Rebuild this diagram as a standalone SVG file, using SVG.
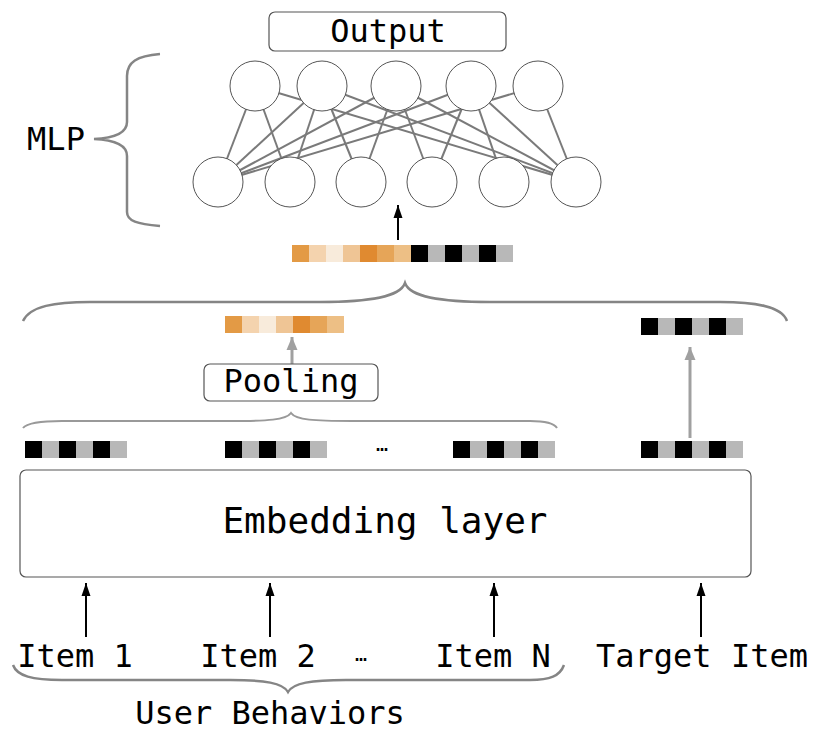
<svg xmlns="http://www.w3.org/2000/svg" width="816" height="742" viewBox="0 0 816 742">
<style>
text{font-family:"DejaVu Sans Mono","Liberation Mono",monospace;fill:#000}
.lbl{font-size:32px}
.box{fill:#fff;stroke:#555;stroke-width:1.2}
.nd{fill:#fff;stroke:#555;stroke-width:1}
.ln{stroke:#7a7a7a;stroke-width:2;fill:none}
.br{fill:none;stroke:#858585;stroke-width:2.5}
.ak{stroke:#000;stroke-width:2}
.ag{stroke:#a0a0a0;stroke-width:3}
.k{fill:#000}.g{fill:#b8b8b8}
.o1{fill:#e39a45}.o2{fill:#f4d3ae}.o3{fill:#f8ebdb}.o4{fill:#efc595}.o5{fill:#e08a30}.o6{fill:#e6a558}.o7{fill:#edbf85}
</style>
<defs>
<marker id="mk" markerUnits="userSpaceOnUse" markerWidth="14" markerHeight="10" refX="13" refY="5" orient="auto" viewBox="0 0 14 10">
<path d="M0 0.5 L13 5 L0 9.5 Z" fill="#000"/>
</marker>
<marker id="mg" markerUnits="userSpaceOnUse" markerWidth="14" markerHeight="12" refX="13" refY="6" orient="auto" viewBox="0 0 14 12">
<path d="M0 0.5 L13 6 L0 11.5 Z" fill="#a0a0a0"/>
</marker>
<g id="emb6">
<rect x="0" y="0" width="17" height="17" class="k"/><rect x="17" y="0" width="17" height="17" class="g"/>
<rect x="34" y="0" width="17" height="17" class="k"/><rect x="51" y="0" width="17" height="17" class="g"/>
<rect x="68" y="0" width="17" height="17" class="k"/><rect x="85" y="0" width="17" height="17" class="g"/>
</g>
<g id="org7">
<rect x="0" y="0" width="17" height="17" class="o1"/><rect x="17" y="0" width="17" height="17" class="o2"/>
<rect x="34" y="0" width="17" height="17" class="o3"/><rect x="51" y="0" width="17" height="17" class="o4"/>
<rect x="68" y="0" width="17" height="17" class="o5"/><rect x="85" y="0" width="17" height="17" class="o6"/>
<rect x="102" y="0" width="17" height="17" class="o7"/>
</g>
</defs>

<g id="connectors">
<g id="mlp-links">
<line class="ln" x1="218" y1="182" x2="255" y2="86"/>
<line class="ln" x1="218" y1="182" x2="322" y2="86"/>
<line class="ln" x1="218" y1="182" x2="396" y2="86"/>
<line class="ln" x1="218" y1="182" x2="471" y2="86"/>
<line class="ln" x1="218" y1="182" x2="538" y2="86"/>
<line class="ln" x1="576" y1="182" x2="255" y2="86"/>
<line class="ln" x1="576" y1="182" x2="322" y2="86"/>
<line class="ln" x1="576" y1="182" x2="396" y2="86"/>
<line class="ln" x1="576" y1="182" x2="471" y2="86"/>
<line class="ln" x1="576" y1="182" x2="538" y2="86"/>
<line class="ln" x1="255" y1="86" x2="290" y2="182"/>
<line class="ln" x1="322" y1="86" x2="290" y2="182"/>
<line class="ln" x1="322" y1="86" x2="361" y2="182"/>
<line class="ln" x1="396" y1="86" x2="361" y2="182"/>
<line class="ln" x1="396" y1="86" x2="432" y2="182"/>
<line class="ln" x1="471" y1="86" x2="432" y2="182"/>
<line class="ln" x1="471" y1="86" x2="504" y2="182"/>
</g>
<line class="ak" x1="398" y1="240" x2="398" y2="205" marker-end="url(#mk)"/>
<line class="ag" x1="292" y1="365" x2="292" y2="337" marker-end="url(#mg)"/>
<line class="ag" x1="690" y1="438" x2="690" y2="347" marker-end="url(#mg)"/>
<line class="ak" x1="86" y1="637" x2="86" y2="583" marker-end="url(#mk)"/>
<line class="ak" x1="270" y1="637" x2="270" y2="583" marker-end="url(#mk)"/>
<line class="ak" x1="494" y1="637" x2="494" y2="583" marker-end="url(#mk)"/>
<line class="ak" x1="701" y1="637" x2="701" y2="583" marker-end="url(#mk)"/>
</g>

<g id="mlp-top">
<circle class="nd" cx="255" cy="86" r="25"/>
<circle class="nd" cx="322" cy="86" r="25"/>
<circle class="nd" cx="396" cy="86" r="25"/>
<circle class="nd" cx="471" cy="86" r="25"/>
<circle class="nd" cx="538" cy="86" r="25"/>
</g>
<g id="mlp-bottom">
<circle class="nd" cx="218" cy="182" r="25"/>
<circle class="nd" cx="290" cy="182" r="25"/>
<circle class="nd" cx="361" cy="182" r="25"/>
<circle class="nd" cx="432" cy="182" r="25"/>
<circle class="nd" cx="504" cy="182" r="25"/>
<circle class="nd" cx="576" cy="182" r="25"/>
</g>

<g id="output">
<rect class="box" x="269" y="12" width="237" height="39" rx="6"/>
<text class="lbl" x="388" y="42" text-anchor="middle">Output</text>
</g>

<g id="mlp-label">
<path class="br" d="M160 54 C137 56 127 62 127 76 L127 122 C127 133 116 138 94 139 C116 140 127 145 127 156 L127 212 C127 221 137 224 160 226"/>
<text class="lbl" x="56" y="150" text-anchor="middle">MLP</text>
</g>

<g id="concat-vector">
<use href="#org7" x="292" y="245"/>
<use href="#emb6" x="411" y="245"/>
</g>

<g id="concat-brace">
<path class="br" d="M23 321 C30 306 55 302 90 302 L320 302 C370 302 400 297 405 283 C410 297 440 302 490 302 L720 302 C755 302 782 306 787 321"/>
</g>

<g id="pooled-vector">
<use href="#org7" x="225" y="316"/>
</g>

<g id="target-emb-top">
<use href="#emb6" x="641" y="318"/>
</g>

<g id="pooling">
<rect class="box" x="204" y="364" width="174" height="37" rx="6"/>
<text class="lbl" x="291" y="392" text-anchor="middle">Pooling</text>
</g>

<g id="pooling-brace">
<path class="br" style="stroke:#999;stroke-width:2" d="M23 428 C27 423 42 421 62 421 L230 421 C268 421 286 420 291 413 C296 420 314 421 352 421 L530 421 C545 421 554 423 557 428"/>
</g>

<g id="behavior-embs">
<use href="#emb6" x="25" y="441"/>
<use href="#emb6" x="225" y="441"/>
<text x="382" y="451" font-size="20" text-anchor="middle">…</text>
<use href="#emb6" x="453" y="441"/>
</g>
<g id="target-emb">
<use href="#emb6" x="641" y="441"/>
</g>

<g id="embedding-layer">
<rect class="box" x="20" y="470" width="731" height="107" rx="6"/>
<text x="385" y="533" font-size="36" text-anchor="middle">Embedding layer</text>
</g>

<g id="items">
<text class="lbl" x="75" y="667" text-anchor="middle">Item 1</text>
<text class="lbl" x="258" y="667" text-anchor="middle">Item 2</text>
<text x="361" y="661" font-size="20" text-anchor="middle">…</text>
<text class="lbl" x="493" y="667" text-anchor="middle">Item N</text>
</g>
<g id="target-item">
<text class="lbl" x="702" y="667" text-anchor="middle">Target Item</text>
</g>

<g id="user-behaviors">
<path class="br" d="M13 665 C17 676 32 680 62 680 L230 680 C265 680 283 683 288 692 C293 683 311 680 346 680 L530 680 C550 680 560 676 564 665"/>
<text class="lbl" x="270" y="724" text-anchor="middle">User Behaviors</text>
</g>
</svg>
